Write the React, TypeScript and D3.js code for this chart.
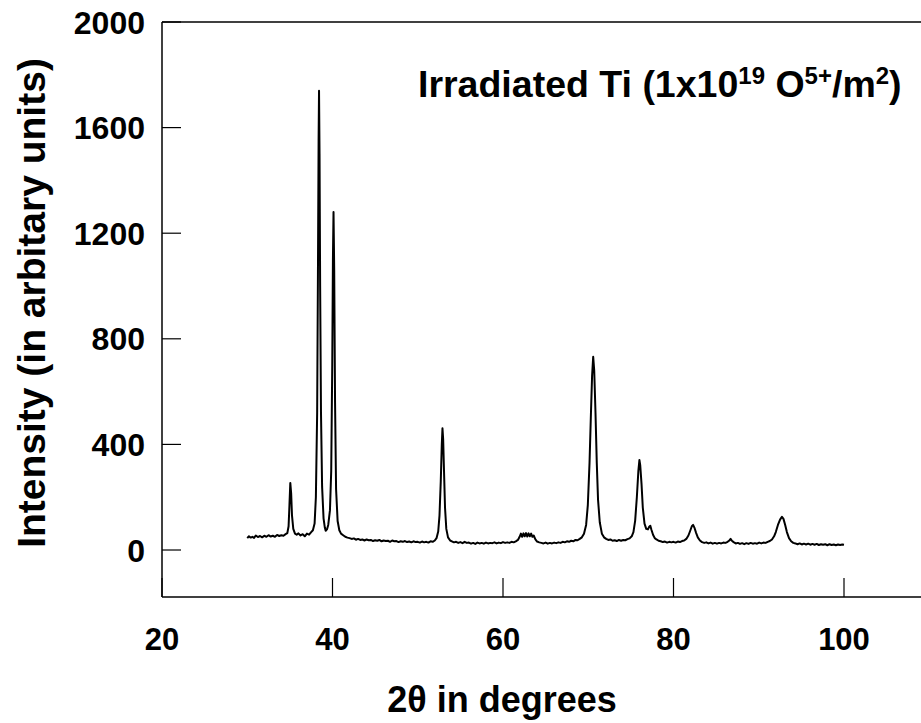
import React from "react";
import * as d3 from "d3";

const xTicks = [20, 40, 60, 80, 100];
const yTicks = [0, 400, 800, 1200, 1600, 2000];

// [2theta (deg), intensity]
const xrdPoints: [number, number][] = [
  [30.0, 45], [30.2, 52], [30.4, 47], [30.6, 50], [30.8, 46], [31.0, 55], [31.25, 49], [31.5, 53],
  [31.75, 48], [32.0, 54], [32.25, 50], [32.5, 56], [32.75, 51], [33.0, 54], [33.25, 50], [33.5, 57],
  [33.75, 53], [34.0, 56], [34.25, 54], [34.5, 60], [34.7, 64], [34.85, 90], [34.95, 170], [35.05, 254],
  [35.15, 215], [35.25, 130], [35.4, 80], [35.6, 62], [35.8, 58], [36.0, 63], [36.25, 55], [36.5, 60],
  [36.75, 52], [37.0, 62], [37.25, 58], [37.5, 68], [37.7, 75], [37.9, 100], [38.05, 200], [38.2, 520],
  [38.3, 1100], [38.37, 1550], [38.42, 1740], [38.48, 1500], [38.55, 1000], [38.65, 520], [38.78, 240],
  [38.95, 120], [39.1, 85], [39.2, 73], [39.35, 78], [39.5, 95], [39.7, 150], [39.85, 300], [39.97, 700],
  [40.05, 1100], [40.12, 1280], [40.2, 1060], [40.3, 560], [40.42, 230], [40.6, 110], [40.8, 75],
  [41.0, 62], [41.25, 56], [41.5, 50], [41.75, 47], [42.0, 45], [42.25, 42], [42.5, 44], [42.75, 39],
  [43.0, 42], [43.25, 38], [43.5, 40], [43.75, 36], [44.0, 40], [44.25, 37], [44.5, 38], [44.75, 34],
  [45.0, 37], [45.25, 35], [45.5, 38], [45.75, 33], [46.0, 36], [46.25, 34], [46.5, 35], [46.75, 31],
  [47.0, 36], [47.25, 33], [47.5, 34], [47.75, 30], [48.0, 33], [48.25, 31], [48.5, 34], [48.75, 30],
  [49.0, 32], [49.25, 29], [49.5, 33], [49.75, 30], [50.0, 31], [50.25, 28], [50.5, 32], [50.75, 29],
  [51.0, 31], [51.25, 28], [51.5, 33], [51.75, 31], [52.0, 36], [52.2, 45], [52.4, 70], [52.55, 130],
  [52.7, 260], [52.82, 400], [52.9, 461], [52.98, 420], [53.08, 300], [53.2, 160], [53.35, 80],
  [53.55, 48], [53.8, 36], [54.0, 33], [54.25, 29], [54.5, 31], [54.75, 27], [55.0, 30], [55.25, 26],
  [55.5, 31], [55.75, 27], [56.0, 28], [56.25, 24], [56.5, 27], [56.75, 23], [57.0, 28], [57.25, 25],
  [57.5, 27], [57.75, 24], [58.0, 28], [58.25, 25], [58.5, 27], [58.75, 26], [59.0, 29], [59.25, 25],
  [59.5, 28], [59.75, 26], [60.0, 30], [60.25, 27], [60.5, 29], [60.75, 27], [61.0, 31], [61.25, 29],
  [61.5, 33], [61.75, 38], [61.95, 50], [62.1, 62], [62.25, 50], [62.4, 63], [62.55, 52], [62.7, 64],
  [62.85, 51], [63.0, 63], [63.15, 52], [63.3, 62], [63.45, 50], [63.6, 55], [63.8, 40], [64.0, 32],
  [64.25, 29], [64.5, 27], [64.75, 25], [65.0, 28], [65.25, 24], [65.5, 27], [65.75, 25], [66.0, 28],
  [66.25, 26], [66.5, 29], [66.75, 27], [67.0, 31], [67.25, 29], [67.5, 33], [67.75, 31], [68.0, 35],
  [68.25, 33], [68.5, 38], [68.75, 37], [69.0, 42], [69.25, 48], [69.5, 62], [69.75, 95], [69.95, 170],
  [70.15, 330], [70.3, 500], [70.45, 660], [70.58, 732], [70.7, 680], [70.85, 520], [71.0, 330],
  [71.15, 190], [71.35, 105], [71.6, 62], [71.85, 48], [72.1, 42], [72.35, 38], [72.6, 40], [72.85, 35],
  [73.1, 37], [73.35, 34], [73.6, 38], [73.85, 35], [74.1, 38], [74.35, 37], [74.6, 41], [74.85, 44],
  [75.1, 52], [75.3, 68], [75.5, 110], [75.7, 200], [75.88, 300], [76.0, 341], [76.1, 320], [76.25, 250],
  [76.4, 160], [76.6, 100], [76.8, 80], [77.0, 78], [77.15, 88], [77.28, 92], [77.42, 76], [77.6, 58],
  [77.8, 45], [78.0, 40], [78.25, 35], [78.5, 33], [78.75, 30], [79.0, 32], [79.25, 28], [79.5, 31],
  [79.75, 29], [80.0, 31], [80.25, 28], [80.5, 32], [80.75, 30], [81.0, 34], [81.25, 36], [81.5, 42],
  [81.75, 55], [81.95, 72], [82.15, 90], [82.3, 95], [82.45, 85], [82.65, 65], [82.85, 48], [83.1, 36],
  [83.35, 30], [83.6, 27], [83.85, 29], [84.1, 25], [84.35, 28], [84.6, 24], [84.85, 27], [85.1, 24],
  [85.35, 27], [85.6, 25], [85.85, 28], [86.1, 27], [86.35, 31], [86.55, 36], [86.7, 42], [86.85, 35],
  [87.05, 30], [87.3, 25], [87.55, 27], [87.8, 23], [88.05, 26], [88.3, 22], [88.55, 26], [88.8, 23],
  [89.05, 27], [89.3, 24], [89.55, 26], [89.8, 24], [90.05, 28], [90.3, 25], [90.55, 28], [90.8, 27],
  [91.05, 31], [91.3, 34], [91.55, 40], [91.8, 52], [92.0, 68], [92.25, 95], [92.5, 115], [92.72, 126],
  [92.9, 118], [93.1, 95], [93.3, 68], [93.55, 45], [93.8, 33], [94.05, 27], [94.3, 25], [94.55, 22],
  [94.8, 25], [95.05, 21], [95.3, 24], [95.55, 21], [95.8, 24], [96.05, 20], [96.3, 23], [96.55, 20],
  [96.8, 23], [97.05, 19], [97.3, 22], [97.55, 20], [97.8, 22], [98.05, 18], [98.3, 22], [98.55, 19],
  [98.8, 21], [99.05, 18], [99.3, 21], [99.55, 19], [99.8, 21], [100.0, 20],
];

const W = 921;
const H = 723;
const left = 162;
const top = 22;
const bottom = 597;

export default function App() {
  const x = d3.scaleLinear().domain([20, 110]).range([left, left + 90 * 8.525]);
  const y = d3.scaleLinear().domain([-178, 2000]).range([bottom, top]);
  const line = d3
    .line<[number, number]>()
    .x((d) => x(d[0]))
    .y((d) => y(d[1]));
  const font = "'Liberation Sans', Arial, sans-serif";
  const tickLen = 19;
  return (
    <svg
      width={W}
      height={H}
      style={{ position: "absolute", left: 0, top: 0, background: "#fff" }}
      fontFamily={font}
      fontWeight="bold"
    >
      <rect x={0} y={0} width={W} height={H} fill="#fff" />
      {/* frame */}
      <line x1={left} y1={top} x2={W} y2={top} stroke="#000" strokeWidth={1.5} />
      <line x1={left} y1={bottom} x2={W} y2={bottom} stroke="#000" strokeWidth={1.5} />
      <line x1={left} y1={top} x2={left} y2={bottom} stroke="#000" strokeWidth={1.5} />
      {/* y ticks */}
      {yTicks.map((t) => (
        <g key={"y" + t}>
          <line x1={left} x2={left + tickLen} y1={y(t)} y2={y(t)} stroke="#000" strokeWidth={1.2} />
          <text x={left - 17} y={y(t)} dy="0.36em" textAnchor="end" fontSize={32}>
            {t}
          </text>
        </g>
      ))}
      {/* x ticks */}
      {xTicks.map((t) => (
        <g key={"x" + t}>
          <line x1={x(t)} x2={x(t)} y1={bottom} y2={bottom - tickLen} stroke="#000" strokeWidth={1.2} />
          <text x={x(t)} y={650} textAnchor="middle" fontSize={31}>
            {t}
          </text>
        </g>
      ))}
      {/* data */}
      <path d={line(xrdPoints) || ""} fill="none" stroke="#000" strokeWidth={2} strokeLinejoin="round" />
      {/* titles */}
      <text x={502} y={712} textAnchor="middle" fontSize={36}>
        2θ in degrees
      </text>
      <text
        transform={`translate(45, 303) rotate(-90)`}
        textAnchor="middle"
        fontSize={39}
      >
        Intensity (in arbitary units)
      </text>
      <text x={418} y={97} fontSize={37.5}>
        Irradiated Ti (1x10
        <tspan fontSize={24} dy={-13}>19</tspan>
        <tspan dy={13}> O</tspan>
        <tspan fontSize={24} dy={-13}>5+</tspan>
        <tspan dy={13}>/m</tspan>
        <tspan fontSize={24} dy={-13}>2</tspan>
        <tspan dy={13}>)</tspan>
      </text>
    </svg>
  );
}
